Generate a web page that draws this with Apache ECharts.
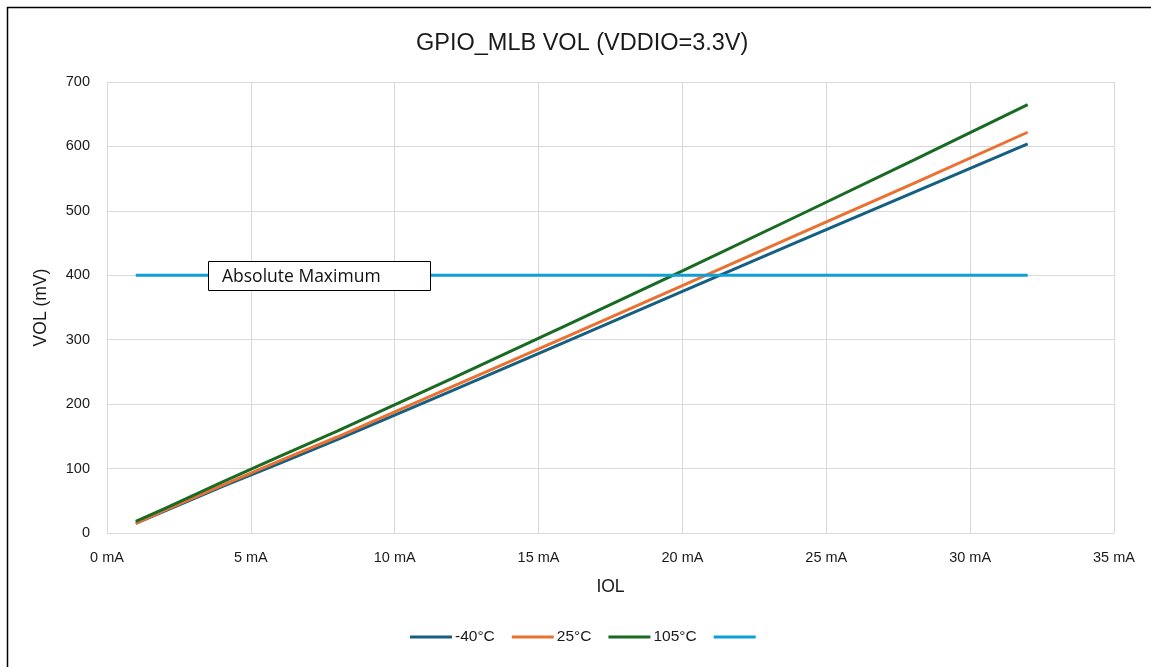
<!DOCTYPE html>
<html>
<head>
<meta charset="utf-8">
<script src="https://cdn.jsdelivr.net/npm/echarts@6/dist/echarts.min.js"></script>
<style>
  html, body { margin: 0; padding: 0; background: #fff; }
  #chart { width: 1151px; height: 667px; }
</style>
</head>
<body>
<div id="chart"></div>
<script>
// Output low voltage vs. sink current, per temperature
const iol = [1, 2, 4, 6, 8, 12, 16, 20, 24, 28, 32];          // mA
const volMinus40 = [15, 34, 72, 108, 145, 221, 298, 375, 452, 528, 604];   // mV
const vol25 = [15, 35, 74, 112, 149, 227, 305, 384, 463, 542, 622];        // mV
const vol105 = [18, 38, 79, 119, 158, 240, 323, 407, 492, 578, 665];       // mV
const limitRange = [1, 32];   // mA span of the limit line
const limitValue = 400;       // mV
const seriesNames = ['-40°C', '25°C', '105°C', ' '];
const limitLabel = 'Absolute Maximum';

const pairs = (xs, ys) => xs.map((x, i) => [x, ys[i]]);
const colors = ['#156082', '#E97132', '#196B24', '#0F9ED5'];
const font = '"Liberation Sans", Arial, sans-serif';

const chart = echarts.init(document.getElementById('chart'), null, { renderer: 'canvas' });

function lineSeries(name, data, color) {
  return {
    name, type: 'line', data, symbol: 'none', smooth: false, z: 2,
    lineStyle: { color, width: 3 }, itemStyle: { color },
    emphasis: { disabled: true }
  };
}

chart.setOption({
  animation: false,
  backgroundColor: '#fff',
  color: colors,
  title: {
    text: 'GPIO_MLB VOL (VDDIO=3.3V)',
    left: 411, top: 27,
    textStyle: { fontFamily: font, fontSize: 23.5, fontWeight: 'normal', color: '#1a1a1a' }
  },
  grid: { left: 107, right: 37, top: 82, bottom: 134 },
  legend: {
    bottom: 17, left: 405,
    itemWidth: 42, itemHeight: 3, itemGap: 17,
    icon: 'rect',
    textStyle: { fontFamily: font, fontSize: 15.5, color: '#1a1a1a', padding: [0, 0, 0, -2] },
    data: seriesNames
  },
  xAxis: {
    type: 'value', min: 0, max: 35, interval: 5,
    name: 'IOL', nameLocation: 'middle', nameGap: 45,
    nameTextStyle: { fontFamily: font, fontSize: 17.5, color: '#1a1a1a' },
    axisLine: { show: true, lineStyle: { color: '#d9d9d9', width: 1 } },
    axisTick: { show: false },
    axisLabel: { fontFamily: font, fontSize: 14.5, color: '#1a1a1a', margin: 17, formatter: v => v + ' mA' },
    splitLine: { show: true, lineStyle: { color: '#d9d9d9', width: 1 } }
  },
  yAxis: {
    type: 'value', min: 0, max: 700, interval: 100,
    name: 'VOL (mV)', nameLocation: 'middle', nameGap: 57, nameRotate: 90,
    nameTextStyle: { fontFamily: font, fontSize: 17.5, color: '#1a1a1a' },
    axisLine: { show: false },
    axisTick: { show: false },
    axisLabel: { fontFamily: font, fontSize: 14.5, color: '#1a1a1a', margin: 17 },
    splitLine: { show: true, lineStyle: { color: '#d9d9d9', width: 1 } }
  },
  series: [
    lineSeries(seriesNames[0], pairs(iol, volMinus40), colors[0]),
    lineSeries(seriesNames[1], pairs(iol, vol25), colors[1]),
    lineSeries(seriesNames[2], pairs(iol, vol105), colors[2]),
    lineSeries(seriesNames[3], limitRange.map(x => [x, limitValue]), colors[3])
  ],
  graphic: [
    // page frame
    {
      type: 'polyline', silent: true, z: 200,
      shape: { points: [[7.5, 667], [7.5, 7.5], [1151, 7.5]] },
      style: { stroke: '#000', lineWidth: 1.5, fill: null }
    },
    // limit annotation box
    {
      type: 'rect', silent: true, z: 300, zlevel: 1,
      shape: { x: 208.5, y: 261.5, width: 222, height: 29 },
      style: { fill: '#ffffff', stroke: '#000', lineWidth: 1 }
    },
    {
      type: 'text', silent: true, z: 301, zlevel: 1,
      x: 222, y: 277.5,
      style: { text: limitLabel, fontFamily: '"Open Sans", sans-serif', fontSize: 17.5,
               fill: '#111', verticalAlign: 'middle', align: 'left' }
    }
  ]
});
</script>
</body>
</html>
